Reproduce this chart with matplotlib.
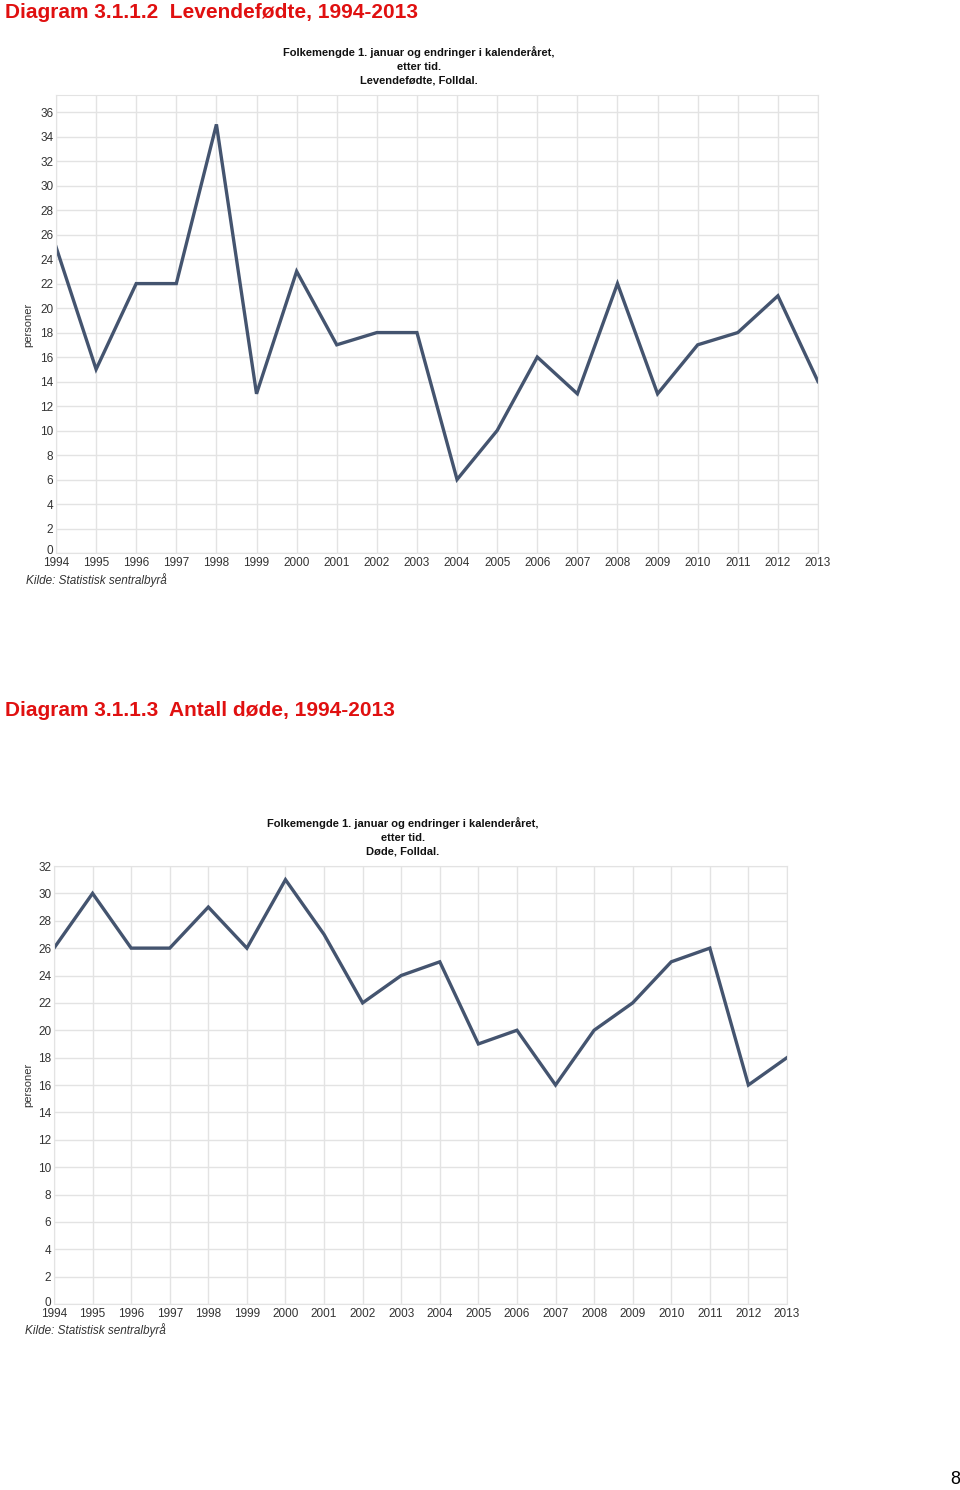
import matplotlib
matplotlib.use("Agg")
import matplotlib.pyplot as plt
import matplotlib.transforms as mtransforms

plt.rcParams["font.family"] = ["Liberation Sans", "DejaVu Sans"]

years = list(range(1994, 2014))
births = [25, 15, 22, 22, 35, 13, 23, 17, 18, 18, 6, 10, 16, 13, 22, 13, 17, 18, 21, 14]
deaths = [26, 30, 26, 26, 29, 26, 31, 27, 22, 24, 25, 19, 20, 16, 20, 22, 25, 26, 16, 18]

births_ticks = list(range(0, 37, 2))
deaths_ticks = list(range(0, 33, 2))

LINE = "#44546f"
GRID = "#e3e3e3"
TXT = "#333333"

W, H = 960, 1490
fig = plt.figure(figsize=(W / 100, H / 100), dpi=100)


def px(x, y):
    return x / W, 1 - y / H


def draw_chart(rect, values, yticks, ytop, subtitle, sub_xy, src_xy, ylab_xy):
    ax = fig.add_axes(rect)
    ax.plot(years, values, color=LINE, linewidth=2.4, solid_joinstyle="miter")
    ax.set_xlim(years[0], years[-1])
    ax.set_ylim(0, ytop)
    ax.set_xticks(years)
    ax.set_xticklabels([str(y) for y in years])
    ax.set_yticks(yticks)
    ax.grid(True, color=GRID, linewidth=1)
    ax.set_axisbelow(True)
    for s in ax.spines.values():
        s.set_color(GRID)
    ax.tick_params(length=0, labelsize=8.5, colors=TXT, pad=2)
    ax.tick_params(axis="x", pad=3)
    # the "0" sits a little above the first year label, as in the source
    zero = ax.get_yticklabels()[0]
    zero.set_transform(zero.get_transform() +
                       mtransforms.ScaledTranslation(0, 3 / 100, fig.dpi_scale_trans))
    # subtitle lines
    x, y = px(*sub_xy)
    fig.text(x, y, subtitle, ha="center", va="top", fontsize=8,
             fontweight="bold", color="#111111", linespacing=1.45)
    x, y = px(*src_xy)
    fig.text(x, y, "Kilde: Statistisk sentralbyrå", ha="left", va="center",
             fontsize=8.5, style="italic", color=TXT)
    x, y = px(*ylab_xy)
    fig.text(x, y, "personer", rotation=90, ha="center", va="center",
             fontsize=8, color=TXT)
    return ax


x, y = px(5, 13)
fig.text(x, y, "Diagram 3.1.1.2  Levendefødte, 1994-2013", ha="left", va="center",
         fontsize=15, fontweight="bold", color="#e01010")
draw_chart([56 / W, 1 - 553 / H, (818 - 56) / W, (553 - 95) / H], births,
           births_ticks, 37.4,
           "Folkemengde 1. januar og endringer i kalenderåret,\netter tid.\nLevendefødte, Folldal.",
           (419, 46), (26, 580), (28, 325))

x, y = px(5, 710)
fig.text(x, y, "Diagram 3.1.1.3  Antall døde, 1994-2013", ha="left", va="center",
         fontsize=15, fontweight="bold", color="#e01010")
draw_chart([54 / W, 1 - 1304 / H, (787 - 54) / W, (1304 - 866) / H], deaths,
           deaths_ticks, 32,
           "Folkemengde 1. januar og endringer i kalenderåret,\netter tid.\nDøde, Folldal.",
           (403, 817), (25, 1330), (28, 1085))

x, y = px(955, 1480)
fig.text(x, y, "8", ha="center", va="center", fontsize=13, color="black")

fig.savefig("out.png", dpi=100)
